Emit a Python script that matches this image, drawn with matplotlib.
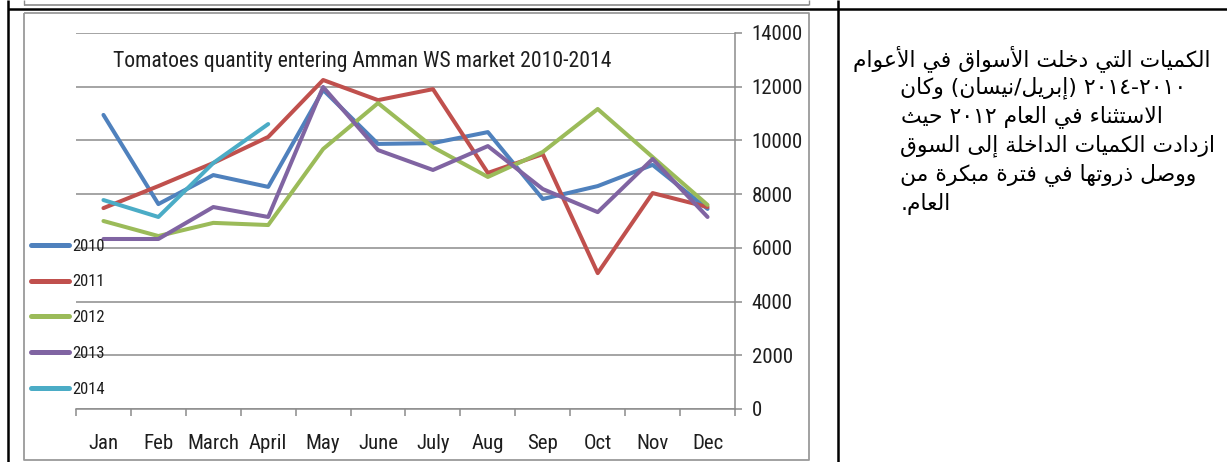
import re
import matplotlib
matplotlib.use("Agg")
import matplotlib.pyplot as plt
from matplotlib import font_manager
from matplotlib.lines import Line2D

# ---------------- data ----------------
months = ["Jan", "Feb", "March", "April", "May", "June", "July", "Aug", "Sep", "Oct", "Nov", "Dec"]
y2010 = [10950, 7630, 8710, 8270, 11880, 9870, 9900, 10310, 7820, 8300, 9090, 7450]
y2011 = [7480, 8300, 9160, 10130, 12250, 11500, 11910, 8790, 9490, 5060, 8040, 7520]
y2012 = [7000, 6440, 6930, 6850, 9680, 11390, 9750, 8640, 9570, 11170, 9380, 7600]
y2013 = [6330, 6330, 7520, 7150, 11990, 9640, 8900, 9790, 8190, 7330, 9310, 7150]
y2014 = [7780, 7150, 9160, 10610]
series_names = ["2010", "2011", "2012", "2013", "2014"]
series_values = [y2010, y2011, y2012, y2013, y2014]
yticks = [0, 2000, 4000, 6000, 8000, 10000, 12000, 14000]
title = "Tomatoes quantity entering Amman WS market 2010-2014"
arabic_lines = [
    "الكميات التي دخلت الأسواق في الأعوام",
    "٢٠١٠-٢٠١٤ (إبريل/نيسان) وكان",
    "الاستثناء في العام ٢٠١٢ حيث",
    "ازدادت الكميات الداخلة إلى السوق",
    "ووصل ذروتها في فترة مبكرة من",
    "العام.",
]

colors = ["#4F81BD", "#C0504D", "#9BBB59", "#8064A2", "#4BACC6"]

# ---------------- fonts ----------------
available = {f.name for f in font_manager.fontManager.ttflist}
def pick(cands):
    for c in cands:
        if c in available:
            return c
    return "DejaVu Sans"
NARROW = pick(["Liberation Sans Narrow", "Roboto Condensed", "DejaVu Sans Condensed", "Liberation Sans"])
plt.rcParams["font.family"] = [NARROW, "DejaVu Sans"]

# ---------------- Arabic shaping helpers ----------------
FORMS = {
    '\u0621': ('\uFE80', None, None, None),
    '\u0622': ('\uFE81', '\uFE82', None, None),
    '\u0623': ('\uFE83', '\uFE84', None, None),
    '\u0624': ('\uFE85', '\uFE86', None, None),
    '\u0625': ('\uFE87', '\uFE88', None, None),
    '\u0626': ('\uFE89', '\uFE8A', '\uFE8B', '\uFE8C'),
    '\u0627': ('\uFE8D', '\uFE8E', None, None),
    '\u0628': ('\uFE8F', '\uFE90', '\uFE91', '\uFE92'),
    '\u0629': ('\uFE93', '\uFE94', None, None),
    '\u062A': ('\uFE95', '\uFE96', '\uFE97', '\uFE98'),
    '\u062B': ('\uFE99', '\uFE9A', '\uFE9B', '\uFE9C'),
    '\u062C': ('\uFE9D', '\uFE9E', '\uFE9F', '\uFEA0'),
    '\u062D': ('\uFEA1', '\uFEA2', '\uFEA3', '\uFEA4'),
    '\u062E': ('\uFEA5', '\uFEA6', '\uFEA7', '\uFEA8'),
    '\u062F': ('\uFEA9', '\uFEAA', None, None),
    '\u0630': ('\uFEAB', '\uFEAC', None, None),
    '\u0631': ('\uFEAD', '\uFEAE', None, None),
    '\u0632': ('\uFEAF', '\uFEB0', None, None),
    '\u0633': ('\uFEB1', '\uFEB2', '\uFEB3', '\uFEB4'),
    '\u0634': ('\uFEB5', '\uFEB6', '\uFEB7', '\uFEB8'),
    '\u0635': ('\uFEB9', '\uFEBA', '\uFEBB', '\uFEBC'),
    '\u0636': ('\uFEBD', '\uFEBE', '\uFEBF', '\uFEC0'),
    '\u0637': ('\uFEC1', '\uFEC2', '\uFEC3', '\uFEC4'),
    '\u0638': ('\uFEC5', '\uFEC6', '\uFEC7', '\uFEC8'),
    '\u0639': ('\uFEC9', '\uFECA', '\uFECB', '\uFECC'),
    '\u063A': ('\uFECD', '\uFECE', '\uFECF', '\uFED0'),
    '\u0641': ('\uFED1', '\uFED2', '\uFED3', '\uFED4'),
    '\u0642': ('\uFED5', '\uFED6', '\uFED7', '\uFED8'),
    '\u0643': ('\uFED9', '\uFEDA', '\uFEDB', '\uFEDC'),
    '\u0644': ('\uFEDD', '\uFEDE', '\uFEDF', '\uFEE0'),
    '\u0645': ('\uFEE1', '\uFEE2', '\uFEE3', '\uFEE4'),
    '\u0646': ('\uFEE5', '\uFEE6', '\uFEE7', '\uFEE8'),
    '\u0647': ('\uFEE9', '\uFEEA', '\uFEEB', '\uFEEC'),
    '\u0648': ('\uFEED', '\uFEEE', None, None),
    '\u0649': ('\uFEEF', '\uFEF0', None, None),
    '\u064A': ('\uFEF1', '\uFEF2', '\uFEF3', '\uFEF4'),
}
LAM_ALEF = {'\u0622': ('\uFEF5', '\uFEF6'), '\u0623': ('\uFEF7', '\uFEF8'),
            '\u0625': ('\uFEF9', '\uFEFA'), '\u0627': ('\uFEFB', '\uFEFC')}


def reshape(s):
    units, i = [], 0
    while i < len(s):
        c = s[i]
        if c == '\u0644' and i + 1 < len(s) and s[i + 1] in LAM_ALEF:
            units.append(('LA', s[i + 1])); i += 2
        else:
            units.append(('C', c)); i += 1

    def fwd(u):
        return u[0] == 'C' and u[1] in FORMS and FORMS[u[1]][2] is not None

    def back(u):
        return u[0] == 'LA' or (u[1] in FORMS and FORMS[u[1]][1] is not None)

    out = []
    for k, u in enumerate(units):
        prev = units[k - 1] if k > 0 else None
        nxt = units[k + 1] if k + 1 < len(units) else None
        p = prev is not None and fwd(prev) and back(u)
        n = nxt is not None and fwd(u) and back(nxt)
        if u[0] == 'LA':
            out.append(LAM_ALEF[u[1]][1 if p else 0])
        elif u[1] in FORMS:
            f = FORMS[u[1]]
            out.append(f[3] if (p and n) else f[1] if p else f[2] if n else f[0])
        else:
            out.append(u[1])
    return ''.join(out)


MIRROR = {'(': ')', ')': '('}


def visual(s):
    shaped = reshape(s)
    toks = re.findall(r'[0-9\u0660-\u0669]+|.', shaped)
    return ''.join(MIRROR.get(t, t) for t in reversed(toks))


# ---------------- figure ----------------
W, H = 1227, 462
fig = plt.figure(figsize=(W / 100, H / 100), dpi=100)
fig.patch.set_facecolor("white")


def fx(x):
    return x / W


def fy(y):
    return 1 - y / H


def fline(xs, ys, color, lw):
    fig.add_artist(Line2D([fx(v) for v in xs], [fy(v) for v in ys], color=color, lw=lw,
                          transform=fig.transFigure, solid_capstyle="butt"))

# table / frame decorations
fline([24, 24], [0, 5], "#8a8a8a", 1.0)
fline([809, 809], [0, 5], "#8a8a8a", 1.0)
fline([24, 809], [4.5, 4.5], "#8a8a8a", 1.2)
fline([8, W], [9, 9], "black", 1.8)
fline([8, 8], [0, H], "black", 1.8)
fline([838, 838], [0, H], "black", 1.8)
# chart frame
fline([24, 809, 809, 24, 24], [12.5, 12.5, 460, 460, 12.5], "#9a9a9a", 1.3)

ax = fig.add_axes([fx(76), fy(409), (735 - 76) / W, (409 - 33) / H])
ax.set_facecolor("none")
x = list(range(len(months)))
for name, vals, col in zip(series_names, series_values, colors):
    ax.plot(x[:len(vals)], vals, color=col, lw=2.9, label=name,
            solid_joinstyle="round", solid_capstyle="round")

ax.set_xlim(-0.5, len(months) - 0.5)
ax.set_ylim(0, 14000)
ax.set_yticks(yticks)
ax.yaxis.tick_right()
ax.yaxis.grid(True, color="#8c8c8c", lw=1.1)
ax.set_axisbelow(True)
for sp in ["top", "left"]:
    ax.spines[sp].set_visible(False)
for sp in ["bottom", "right"]:
    ax.spines[sp].set_color("#8c8c8c")
    ax.spines[sp].set_linewidth(1.1)

ax.set_xticks([i - 0.5 for i in range(len(months) + 1)])
ax.set_xticklabels([])
ax.set_xticks(x, minor=True)
ax.set_xticklabels(months, minor=True)
ax.tick_params(axis="x", which="major", length=5, width=1.1, color="#8c8c8c", direction="out")
ax.tick_params(axis="x", which="minor", length=0, pad=18, labelsize=15, labelcolor="#1e1e1e")
ax.tick_params(axis="y", which="major", length=5, width=1.1, color="#8c8c8c", direction="out",
               pad=7, labelsize=15, labelcolor="#1e1e1e")

fig.text(fx(362), fy(67), title, ha="center", va="baseline", fontsize=15.6, color="#1e1e1e")

leg = ax.legend(loc="upper left", bbox_to_anchor=(fx(31), fy(238.5)), bbox_transform=fig.transFigure,
                frameon=False, fontsize=12, handlelength=2.28, handletextpad=0.18,
                labelspacing=1.25, borderpad=0, borderaxespad=0)
for h in leg.get_lines():
    h.set_linewidth(3.6)
    h.set_solid_capstyle("round")
for t in leg.get_texts():
    t.set_color("#1e1e1e")

# Arabic text block
renderer = fig.canvas.get_renderer()
probe = fig.text(0, 0, visual(arabic_lines[0]), fontsize=14, family="DejaVu Sans")
w0 = probe.get_window_extent(renderer).width
probe.remove()
ar_size = 14 * 362 / w0
line_y = [59, 88, 117, 146, 175, 204]
line_x = [853, 900, 901, 900, 900, 901]
for s, yy, xx in zip(arabic_lines, line_y, line_x):
    fig.text(fx(xx), fy(yy), visual(s), fontsize=ar_size, family="DejaVu Sans",
             ha="left", va="center", color="black")

fig.savefig("out.png", dpi=100, facecolor="white")
